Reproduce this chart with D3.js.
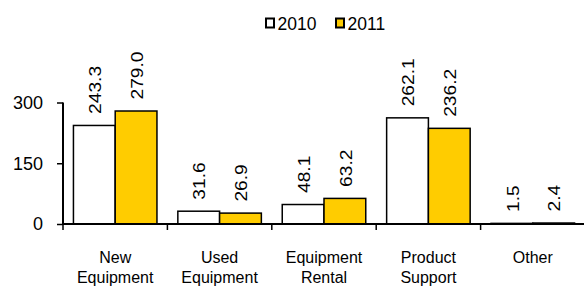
<!DOCTYPE html>
<html><head><meta charset="utf-8">
<script src="https://cdn.jsdelivr.net/npm/d3@7"></script>
<style>body{margin:0;background:#fff}svg{display:block}text{font-family:"Liberation Sans",Arial,sans-serif;fill:#000}</style>
</head><body><svg id="c" width="584" height="286"></svg>
<script>
const categories = [["New","Equipment"],["Used","Equipment"],["Equipment","Rental"],["Product","Support"],["Other"]];
const seriesNames = ["2010","2011"];
const values2010 = [243.3, 31.6, 48.1, 262.1, 1.5];
const values2011 = [279.0, 26.9, 63.2, 236.2, 2.4];
const yTicks = [0,150,300];
const colors = ["#FFFFFF","#FFCC00"];

const svg = d3.select("#c");
const left = 63, right = 585, y0 = 224, yTop = 102.5;
const keys = categories.map(c=>c.join(" "));
const x = d3.scaleBand().domain(keys).range([left,right]).paddingInner(0).paddingOuter(0);
const inner = d3.scaleBand().domain(seriesNames).range([x.bandwidth()*0.1, x.bandwidth()*0.9]).padding(0);
const y = d3.scaleLinear().domain([0,300]).range([y0,yTop]);
const series = [values2010, values2011];

// bars
series.forEach((vals,si)=>{
  svg.append("g").selectAll("rect").data(vals).join("rect")
    .attr("x",(d,i)=>x(keys[i])+inner(seriesNames[si]))
    .attr("y",d=>y(d))
    .attr("width",inner.bandwidth())
    .attr("height",d=>y0-y(d))
    .attr("fill",colors[si]).attr("stroke","#000").attr("stroke-width",1.5);
  svg.append("g").selectAll("text").data(vals).join("text")
    .attr("transform",(d,i)=>`translate(${x(keys[i])+inner(seriesNames[si])+inner.bandwidth()/2+0.5},${y(d)-11.5}) rotate(-90) scale(1.13,1)`)
    .attr("dy","0.36em").attr("font-size",17)
    .text(d=>d.toFixed(1));
});

// y axis
const yAxis = d3.axisLeft(y).tickValues(yTicks).tickSize(6).tickPadding(14).tickFormat(d3.format("d"));
const gy = svg.append("g").attr("transform",`translate(${left},0)`).call(yAxis);
gy.select(".domain").attr("stroke","#000").attr("stroke-width",2).attr("d",`M0,${yTop}V${y0}`);
gy.selectAll(".tick line").attr("stroke","#000").attr("stroke-width",1.5);
gy.selectAll(".tick text").attr("font-size",18).attr("font-family","Liberation Sans, Arial, sans-serif").attr("fill","#000");

// x axis line and ticks at category boundaries
svg.append("line").attr("x1",left).attr("x2",584).attr("y1",y0).attr("y2",y0).attr("stroke","#000").attr("stroke-width",2);
svg.append("g").selectAll("line").data(keys).join("line")
  .attr("x1",d=>x(d)).attr("x2",d=>x(d)).attr("y1",y0).attr("y2",y0+6)
  .attr("stroke","#000").attr("stroke-width",1.5);

// category labels
const cl = svg.append("g").selectAll("text").data(categories).join("text")
  .attr("text-anchor","middle").attr("font-size",16)
  .attr("x",(d,i)=>x(keys[i])+x.bandwidth()/2).attr("y",263);
cl.selectAll("tspan").data(d=>d).join("tspan")
  .attr("x",function(){return this.parentNode.getAttribute("x");})
  .attr("dy",(d,i)=>i===0?0:20).text(d=>d);

// legend
const leg = svg.append("g");
const legX = [266, 336];
seriesNames.forEach((s,i)=>{
  leg.append("rect").attr("x",legX[i]).attr("y",18.5).attr("width",8).attr("height",9)
    .attr("fill",colors[i]).attr("stroke","#000").attr("stroke-width",2);
  leg.append("text").attr("x",legX[i]+11.5).attr("y",30).attr("font-size",17.5).text(s);
});
</script></body></html>
